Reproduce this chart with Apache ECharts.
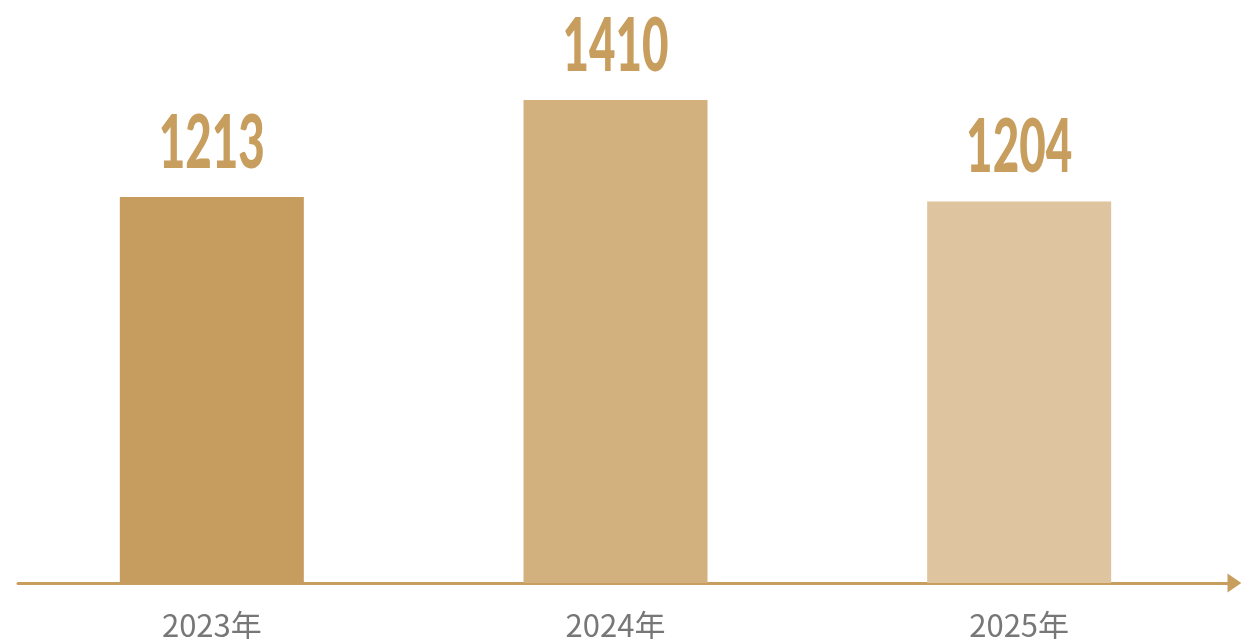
<!DOCTYPE html>
<html>
<head>
<meta charset="utf-8">
<style>
  html, body { margin: 0; padding: 0; background: #ffffff; }
  #chart { width: 1241px; height: 639px; }
</style>
<script src="https://cdn.jsdelivr.net/npm/echarts@6/dist/echarts.min.js"></script>
</head>
<body>
<div id="chart"></div>
<script>
const categories = ['2023年', '2024年', '2025年'];
const values = [1213, 1410, 1204];
const barColors = ['#c69c5f', '#d3b17f', '#dec59f'];
const yMin = 430;
const yMax = 1410;

const chart = echarts.init(document.getElementById('chart'), null, { renderer: 'canvas' });
chart.setOption({
  animation: false,
  backgroundColor: '#ffffff',
  grid: [
    { left: 10, right: 20, top: 100, bottom: 56, containLabel: false, outerBoundsMode: 'none' },
    { left: 18, right: 6.5, top: 100, bottom: 56, containLabel: false, outerBoundsMode: 'none' }
  ],
  xAxis: [
    {
      type: 'category',
      gridIndex: 0,
      data: categories,
      axisLine: { show: false },
      axisTick: { show: false },
      axisLabel: {
        margin: 27,
        color: '#777777',
        fontSize: 31,
        fontFamily: '"Noto Sans CJK SC", "Noto Sans", sans-serif'
      }
    },
    {
      type: 'value',
      gridIndex: 1,
      min: 0, max: 1,
      axisLine: {
        show: true,
        lineStyle: { color: '#c89e5f', width: 3 },
        symbol: ['none', 'triangle'],
        symbolSize: [19, 14]
      },
      axisTick: { show: false },
      axisLabel: { show: false },
      splitLine: { show: false }
    }
  ],
  yAxis: [
    {
      type: 'value', gridIndex: 0, min: yMin, max: yMax,
      show: false, splitLine: { show: false }
    },
    {
      type: 'value', gridIndex: 1, min: 0, max: 1,
      show: false, splitLine: { show: false }
    }
  ],
  series: [
    {
      type: 'bar',
      xAxisIndex: 0,
      yAxisIndex: 0,
      barWidth: 184,
      data: values.map((v, i) => ({ value: v, itemStyle: { color: barColors[i] } }))
    },
    {
      // value labels above the bars, in a condensed display style
      type: 'custom',
      xAxisIndex: 0,
      yAxisIndex: 0,
      clip: false,
      silent: true,
      data: values.map((v, i) => [i, v]),
      renderItem: function (params, api) {
        const p = api.coord([api.value(0), api.value(1)]);
        return {
          type: 'text',
          x: p[0],
          y: p[1] - 16,
          scaleX: 0.61,
          style: {
            text: String(api.value(1)),
            fill: '#c89e5f',
            font: '900 75px Lato, "DejaVu Sans", sans-serif',
            textAlign: 'center',
            textVerticalAlign: 'bottom'
          }
        };
      }
    }
  ]
});
</script>
</body>
</html>
